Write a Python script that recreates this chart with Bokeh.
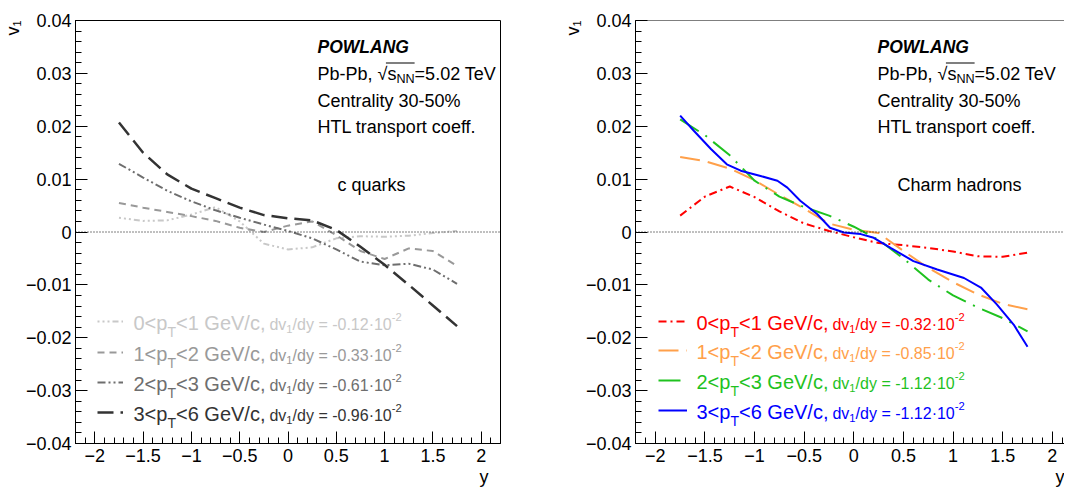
from bokeh.plotting import figure
from bokeh.layouts import row
from bokeh.models import (FixedTicker, Span, Label, Legend, LegendItem, Range1d,
                          BoxAnnotation, Title)
from bokeh.embed import file_html
from bokeh.resources import INLINE

# ---------------- data ----------------
rapidity = [-1.75, -1.5, -1.25, -1.0, -0.75, -0.5, -0.25, 0.0,
            0.25, 0.5, 0.75, 1.0, 1.25, 1.5, 1.75]

# c quarks, v1(y)
cq_pt01 = [0.0027, 0.0021, 0.0022, 0.0033, 0.0047, 0.0020, -0.0022, -0.0033,
           -0.0029, -0.0012, -0.0008, -0.0009, -0.0007, -0.0002, 0.0002]
cq_pt12 = [0.0055, 0.0046, 0.0038, 0.0030, 0.0021, 0.0008, 0.0000, 0.0012,
           0.0020, -0.0006, -0.0036, -0.0051, -0.0031, -0.0036, -0.0064]
cq_pt23 = [0.0129, 0.0103, 0.0078, 0.0058, 0.0041, 0.0027, 0.0014, 0.0002,
           -0.0012, -0.0033, -0.0056, -0.0063, -0.0060, -0.0071, -0.0098]
cq_pt36 = [0.0207, 0.0150, 0.0109, 0.0082, 0.0064, 0.0046, 0.0032, 0.0026,
           0.0022, 0.0004, -0.0028, -0.0062, -0.0100, -0.0139, -0.0178]

# charm hadrons, v1(y)
ch_pt01 = [0.0031, 0.0067, 0.0086, 0.0066, 0.0039, 0.0016, 0.0002, -0.0010,
           -0.0021, -0.0025, -0.0030, -0.0037, -0.0046, -0.0047, -0.0039]
ch_pt12 = [0.0142, 0.0134, 0.0120, 0.0098, 0.0070, 0.0044, 0.0016, 0.0004,
           -0.0002, -0.0036, -0.0068, -0.0095, -0.0118, -0.0136, -0.0146]
ch_pt23 = [0.0213, 0.0183, 0.0145, 0.0097, 0.0067, 0.0047, 0.0031, 0.0010,
           -0.0015, -0.0050, -0.0090, -0.0120, -0.0143, -0.0163, -0.0188]
# 3<pT<6 hadron curve read at its own (denser) rapidity points
rapidity_ch36 = [-1.75, -1.61, -1.44, -1.28, -1.14, -0.94, -0.77, -0.67, -0.54,
                 -0.37, -0.24, -0.10, 0.07, 0.20, 0.37, 0.60, 0.84, 1.11, 1.28,
                 1.44, 1.61, 1.75]
ch_pt36 = [0.0220, 0.0191, 0.0157, 0.0128, 0.0116, 0.0106, 0.0097, 0.0084, 0.0059,
           0.0034, 0.0008, -0.0001, -0.0004, -0.0011, -0.0030, -0.0055, -0.0071,
           -0.0087, -0.0105, -0.0137, -0.0175, -0.0217]

pt_low = ["0", "1", "2", "3"]
pt_high = ["1", "2", "3", "6"]
slopes_cq = ["-0.12", "-0.33", "-0.61", "-0.96"]
slopes_ch = ["-0.32", "-0.85", "-1.12", "-1.12"]

x_ticks = [-2.0, -1.5, -1.0, -0.5, 0.0, 0.5, 1.0, 1.5, 2.0]
x_tick_labels = ["\u22122", "\u22121.5", "\u22121", "\u22120.5", "0", "0.5", "1", "1.5", "2"]
y_ticks = [-0.04, -0.03, -0.02, -0.01, 0.0, 0.01, 0.02, 0.03, 0.04]
y_tick_labels = ["\u22120.04", "\u22120.03", "\u22120.02", "\u22120.01", "0",
                 "0.01", "0.02", "0.03", "0.04"]

# ---------------- styling ----------------
FONT = "Liberation Sans"
cq_colors = ["#c8c8c8", "#999999", "#6e6e6e", "#333333"]
ch_colors = ["#ff0000", "#ffa04a", "#1fc21f", "#0000ff"]
cq_dashes = ["2 3 2 3 2 3 6 3", "7 5", "8 3 2 3 2 3", "16 7"]
ch_dashes = ["8 4 2 4", "20 8", "22 8 2 8", "solid"]

ARIAL = {' ': 278, '%': 889, ',': 278, '-': 333, '.': 278, '/': 278, '<': 584,
         '=': 584, 'A': 667, 'C': 722, 'G': 778, 'H': 722, 'L': 556, 'N': 722,
         'O': 778, 'P': 667, 'T': 611, 'V': 667, 'W': 944, 'a': 556, 'b': 556,
         'c': 500, 'd': 556, 'e': 556, 'f': 278, 'h': 556, 'i': 222, 'k': 500,
         'l': 222, 'm': 833, 'n': 556, 'o': 556, 'p': 556, 'q': 556, 'r': 333,
         's': 500, 't': 278, 'u': 556, 'v': 500, 'y': 500, '\u00b7': 333,
         '\u221a': 549}
for d in "0123456789":
    ARIAL[d] = 556


def tw(s, fs):
    return sum(ARIAL.get(c, 556) for c in s) * fs / 1000.0


FRAME_TOP, FRAME_H = 20, 423
FRAME_BOTTOM = FRAME_TOP + FRAME_H
HEAD_FS = 18


def make_panel(frame_left_page, frame_w, x_end, fig_left_page, border_right,
               title_offset, full_outline):
    p = figure(frame_width=frame_w, frame_height=FRAME_H,
               x_range=Range1d(-2.2, x_end), y_range=Range1d(-0.04, 0.04),
               output_backend="svg", toolbar_location=None,
               min_border_left=frame_left_page - fig_left_page,
               min_border_right=border_right, min_border_top=FRAME_TOP,
               min_border_bottom=44, background_fill_color="white",
               border_fill_color="white")
    p.grid.visible = False
    if full_outline:
        p.outline_line_color = "black"
        p.outline_line_width = 1
    else:
        # right edge of this pad lies outside the picture: only the top edge shows
        p.outline_line_color = None
        p.add_layout(Span(location=0.04, dimension="width", line_color="black",
                          line_width=1))
    for ax, ticks, labels, lo, hi, step in (
            (p.xaxis[0], x_ticks, x_tick_labels, -2.2, x_end, 0.1),
            (p.yaxis[0], y_ticks, y_tick_labels, -0.04, 0.04, 0.002)):
        n = int((hi - lo) / step + 1e-6)
        minors = [round(lo + i * step, 4) for i in range(n + 1)]
        ax.ticker = FixedTicker(ticks=ticks, minor_ticks=minors)
        ax.major_label_overrides = {t: l for t, l in zip(ticks, labels)}
        ax.major_tick_in = 12
        ax.major_tick_out = 0
        ax.minor_tick_in = 6
        ax.minor_tick_out = 0
        ax.axis_line_color = "black"
        ax.major_tick_line_color = "black"
        ax.minor_tick_line_color = "black"
        ax.major_label_text_font = FONT
        ax.major_label_text_font_size = "18px"
        ax.major_label_text_color = "black"
    p.xaxis.major_label_standoff = 5
    p.yaxis.major_label_standoff = 4
    p.add_layout(Span(location=0, dimension="width", line_color="black",
                      line_width=1, line_dash="1 2"))
    # ROOT style axis titles at the axis ends
    p.add_layout(Title(text="v\u2081", align="right", standoff=0, text_font=FONT,
                       text_font_size="18px", text_font_style="normal",
                       text_color="black"), "left")
    p.add_layout(Title(text="y", align="right", standoff=0, offset=title_offset,
                       text_font=FONT, text_font_size="18px",
                       text_font_style="normal", text_color="black"), "below")
    scale = frame_w / (x_end + 2.2)

    def mx(px):
        return -2.2 + (px - frame_left_page) / scale

    def my(py):
        return 0.04 - (py - FRAME_TOP) / FRAME_H * 0.08

    return p, mx, my


def rich(p, mx, my, x0, base, pieces, fs, color, style="normal"):
    """Place a run of text pieces (normal / subscript / superscript)."""
    x = x0
    corr = -0.28 * fs  # the rendered baseline sits slightly low
    for txt, kind in pieces:
        if kind == "sub":
            size, dy = fs * 0.7, fs * 0.45
        elif kind == "subs":
            size, dy = fs * 0.7, fs * 0.25
        elif kind == "sup":
            size, dy = fs * 0.7, -fs * 0.45
        else:
            size, dy = fs, 0
        p.add_layout(Label(x=mx(x), y=my(base + dy + corr), text=txt,
                           text_font=FONT, text_font_size=f"{size:.1f}px",
                           text_color=color, text_align="left",
                           text_baseline="alphabetic", text_font_style=style))
        x += tw(txt, size)
    return x


def sample(p, r, x_left, yc, frame_left, w):
    leg = Legend(items=[LegendItem(label=" ", renderers=[r])],
                 location=(x_left - frame_left, FRAME_BOTTOM - (yc + 10)),
                 glyph_width=w, glyph_height=20, label_height=20, label_width=0,
                 label_standoff=0, padding=0, margin=0, spacing=0,
                 border_line_color=None, background_fill_alpha=0,
                 label_text_font_size="1px")
    p.add_layout(leg)


def header(p, mx, my, x0, species_text, species_x):
    rich(p, mx, my, x0, 51, [("POWLANG", "n")], 17.5, "black", "bold italic")
    xa = rich(p, mx, my, x0, 79, [("Pb-Pb,", "n")], HEAD_FS, "black") + tw(" ", HEAD_FS)
    rich(p, mx, my, xa, 79, [("\u221a", "n"), ("s", "n"), ("NN", "subs"),
                             ("=5.02 TeV", "n")], HEAD_FS, "black")
    xs = xa + tw("\u221a", HEAD_FS) - 1.5
    xe = xs + tw("s", HEAD_FS) + tw("NN", HEAD_FS * 0.7) + 1.5
    p.add_layout(BoxAnnotation(left=mx(xs), right=mx(xe), top=my(62), bottom=my(63),
                               fill_color="black", fill_alpha=1, line_color=None))
    rich(p, mx, my, x0, 106, [("Centrality 30-50%", "n")], HEAD_FS, "black")
    rich(p, mx, my, x0, 132, [("HTL transport coeff.", "n")], HEAD_FS, "black")
    rich(p, mx, my, species_x, 190, [(species_text, "n")], HEAD_FS, "black")


def panel(frame_left, frame_w, x_end, fig_left, border_right, title_offset,
          full_outline, xs_list, series, colors, dashes, slopes, text_x0,
          sample_x, sample_w, species, species_x, head_x, baselines, widths):
    p, mx, my = make_panel(frame_left, frame_w, x_end, fig_left, border_right,
                           title_offset, full_outline)
    for i, (xs, vals, col, dash) in enumerate(zip(xs_list, series, colors, dashes)):
        r = p.line(xs, vals, line_color=col, line_width=widths[i], line_dash=dash)
        base = baselines[i]
        sample(p, r, sample_x, base - 7, frame_left, sample_w)
        xe = rich(p, mx, my, text_x0, base,
                  [(f"{pt_low[i]}<p", "n"), ("T", "sub"),
                   (f"<{pt_high[i]} GeV/c,", "n")], 20, col)
        rich(p, mx, my, xe + 4, base + 0.5,
             [("dv", "n"), ("1", "subs"), (f"/dy = {slopes[i]}\u00b710", "n"),
              ("-2", "sup")], 16, col)
    header(p, mx, my, head_x, species, species_x)
    return p


p1 = panel(75, 425, 2.2, 0, 40, 12, True, [rapidity] * 4,
           [cq_pt01, cq_pt12, cq_pt23, cq_pt36],
           cq_colors, cq_dashes, slopes_cq, 133, 97, 26, "c quarks", 337, 317,
           [328, 359, 389, 419], [2, 2, 2, 2.5])
p2 = panel(635, 429, -2.2 + 429 / 99.25, 540, 0, 0, False,
           [rapidity, rapidity, rapidity, rapidity_ch36],
           [ch_pt01, ch_pt12, ch_pt23, ch_pt36], ch_colors, ch_dashes, slopes_ch,
           696, 658, 29, "Charm hadrons", 897, 877, [328, 357, 387, 417],
           [2, 2, 2, 2])

layout = row(p1, p2)
open("out.html", "w").write(file_html(layout, INLINE))
